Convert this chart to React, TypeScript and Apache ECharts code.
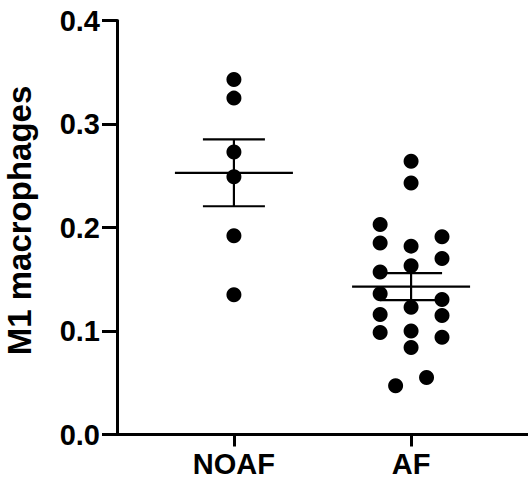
import React, { useEffect, useRef } from "react";
import * as echarts from "echarts";

const categories = ["NOAF", "AF"];
const yTicks = [0, 0.1, 0.2, 0.3, 0.4];
const noafValues = [0.343, 0.325, 0.273, 0.249, 0.192, 0.135];
const afValues = [
  0.264, 0.243, 0.203, 0.185, 0.191, 0.182, 0.17, 0.163, 0.157, 0.136,
  0.1305, 0.123, 0.116, 0.115, 0.0986, 0.1, 0.094, 0.084, 0.055, 0.047,
];
// beeswarm slot of each AF point (columns left/centre/right)
const afSwarmSlots = [
  0, 0, -1, -1, 1, 0, 1, 0, -1, -1, 1, 0, -1, 1, -1, 0, 1, 0, 0.5, -0.5,
];
const noafSwarmSlots = [0, 0, 0, 0, 0, 0];

const SLOT = 0.1746;
const FONT = "'Liberation Sans', Arial, Helvetica, sans-serif";

function meanSem(v: number[]) {
  const n = v.length;
  const m = v.reduce((a, b) => a + b, 0) / n;
  const sd = Math.sqrt(v.reduce((a, b) => a + (b - m) * (b - m), 0) / (n - 1));
  return [m, sd / Math.sqrt(n)];
}

export default function App() {
  const ref = useRef<HTMLDivElement>(null);
  useEffect(() => {
    if (!ref.current) return;
    const chart = echarts.init(ref.current, null, { renderer: "svg" });
    const groups = [noafValues, afValues];
    const slots = [noafSwarmSlots, afSwarmSlots];
    const points: number[][] = [];
    groups.forEach((vals, gi) => {
      vals.forEach((v, i) => points.push([gi + 1 + slots[gi][i] * SLOT, v]));
    });
    const stats = groups.map((vals, gi) => {
      const [m, s] = meanSem(vals);
      return [gi + 1, m, s];
    });
    chart.setOption({
      animation: false,
      backgroundColor: "#fff",
      grid: { left: 117, right: 0, top: 20.5, bottom: 47.5 },
      xAxis: {
        type: "value",
        min: 0.34,
        max: 2.66,
        splitLine: { show: false },
        axisLine: { show: true, onZero: false, lineStyle: { color: "#000", width: 3 } },
        axisTick: { show: true, customValues: [1, 2], length: 12, lineStyle: { color: "#000", width: 3 } },
        axisLabel: {
          customValues: [1, 2],
          formatter: (v: number) => categories[Math.round(v) - 1] ?? "",
          margin: 15,
          color: "#000",
          fontFamily: FONT,
          fontWeight: "bold",
          fontSize: 29,
        },
      },
      yAxis: {
        type: "value",
        min: 0,
        max: 0.4,
        interval: 0.1,
        splitLine: { show: false },
        axisLine: { show: true, lineStyle: { color: "#000", width: 3 } },
        axisTick: { show: true, length: 15, lineStyle: { color: "#000", width: 3 } },
        axisLabel: {
          formatter: (v: number) => (yTicks.some((t) => Math.abs(t - v) < 1e-9) ? v.toFixed(1) : ""),
          margin: 17,
          color: "#000",
          fontFamily: FONT,
          fontWeight: "bold",
          fontSize: 29,
        },
      },
      graphic: [
        {
          type: "text",
          x: 19,
          y: 220.5,
          rotation: Math.PI / 2,
          style: {
            text: "M1 macrophages",
            fill: "#000",
            font: `bold 33px ${FONT}`,
            align: "center",
            verticalAlign: "middle",
          },
        },
      ],
      series: [
        {
          type: "custom",
          data: stats,
          z: 3,
          renderItem: (params: any, api: any) => {
            const x = api.value(0);
            const m = api.value(1);
            const s = api.value(2);
            const c = api.coord([x, m]);
            const t = api.coord([x, m + s]);
            const b = api.coord([x, m - s]);
            const st = { stroke: "#000", lineWidth: 2.2 };
            return {
              type: "group",
              children: [
                { type: "line", shape: { x1: c[0] - 59, y1: c[1], x2: c[0] + 59, y2: c[1] }, style: st },
                { type: "line", shape: { x1: c[0], y1: t[1], x2: c[0], y2: b[1] }, style: st },
                { type: "line", shape: { x1: c[0] - 31, y1: t[1], x2: c[0] + 31, y2: t[1] }, style: st },
                { type: "line", shape: { x1: c[0] - 31, y1: b[1], x2: c[0] + 31, y2: b[1] }, style: st },
              ],
            };
          },
        },
        {
          type: "scatter",
          data: points,
          symbol: "circle",
          symbolSize: 15,
          itemStyle: { color: "#000", opacity: 1 },
          z: 2,
        },
      ],
    });
    return () => chart.dispose();
  }, []);
  return (
    <div
      ref={ref}
      style={{ position: "fixed", left: 0, top: 0, width: 528, height: 482, background: "#fff" }}
    />
  );
}
